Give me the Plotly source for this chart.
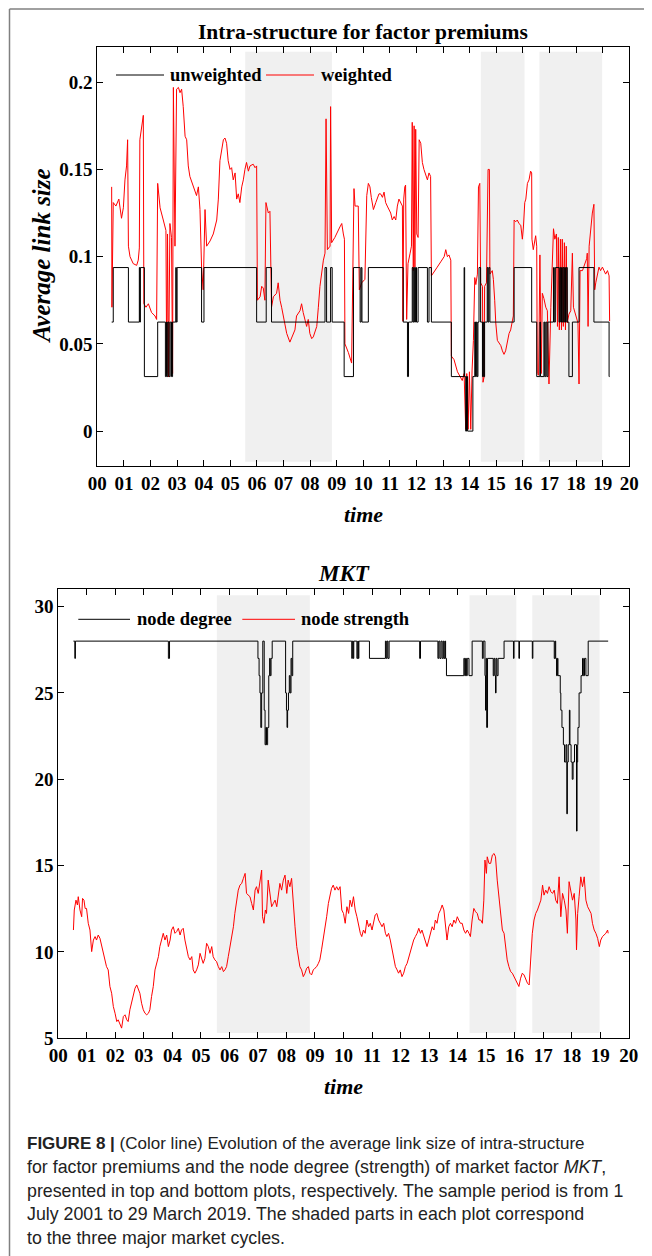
import plotly.graph_objects as go

# ---------------- data ----------------
year_ticks = list(range(0, 21))
year_labels = ["%02d" % y for y in year_ticks]

cycle_start = [5.56, 14.42, 16.62]
cycle_end = [8.82, 16.06, 18.98]

# top: weighted average link size (red)
w_time = [0.54, 0.55, 0.60, 0.70, 0.81, 0.91, 0.98, 1.04, 1.10, 1.14, 1.17, 1.23, 1.35, 1.48, 1.54, 1.58,
          1.60, 1.67, 1.73, 1.75, 1.83, 1.92, 2.04, 2.17, 2.23, 2.27, 2.36, 2.48, 2.58, 2.61, 2.64, 2.68,
          2.73, 2.79, 2.83, 2.86, 2.92, 2.98, 3.05, 3.11, 3.17, 3.23, 3.30, 3.36, 3.42, 3.48, 3.61, 3.67,
          3.73, 3.80, 3.86, 3.92, 3.98, 4.05, 4.11, 4.24, 4.36, 4.49, 4.55, 4.61, 4.67, 4.74, 4.80, 4.86,
          4.92, 4.99, 5.05, 5.11, 5.18, 5.24, 5.30, 5.36, 5.43, 5.49, 5.55, 5.61, 5.68, 5.74, 5.86, 5.93,
          5.99, 6.02, 6.12, 6.18, 6.24, 6.30, 6.34, 6.43, 6.49, 6.55, 6.62, 6.74, 6.80, 6.87, 6.93, 6.99,
          7.12, 7.24, 7.37, 7.43, 7.49, 7.62, 7.68, 7.74, 7.87, 7.93, 7.99, 8.06, 8.12, 8.25, 8.31, 8.37,
          8.50, 8.56, 8.60, 8.65, 8.75, 8.77, 8.81, 8.93, 9.12, 9.19, 9.25, 9.29, 9.31, 9.37, 9.44, 9.56,
          9.62, 9.65, 9.69, 9.81, 9.85, 9.94, 10.06, 10.13, 10.19, 10.25, 10.30, 10.38, 10.47, 10.53,
          10.59, 10.65, 10.72, 10.78, 10.84, 10.90, 10.97, 11.03, 11.09, 11.16, 11.22, 11.28, 11.34,
          11.41, 11.47, 11.49, 11.52, 11.56, 11.59, 11.63, 11.68, 11.76, 11.81, 11.84, 11.88, 11.91,
          11.94, 11.97, 12.01, 12.06, 12.10, 12.16, 12.22, 12.28, 12.35, 12.41, 12.47, 12.53, 12.56,
          12.66, 12.78, 12.91, 13.04, 13.10, 13.16, 13.22, 13.29, 13.31, 13.41, 13.54, 13.66, 13.72,
          13.79, 13.85, 13.89, 13.94, 13.99, 14.04, 14.09, 14.14, 14.19, 14.23, 14.29, 14.33, 14.38,
          14.41, 14.48, 14.50, 14.54, 14.56, 14.63, 14.69, 14.74, 14.76, 14.85, 14.89, 14.94, 14.98,
          15.04, 15.17, 15.23, 15.29, 15.35, 15.42, 15.48, 15.54, 15.60, 15.64, 15.67, 15.73, 15.79,
          15.85, 15.92, 15.98, 16.02, 16.07, 16.11, 16.17, 16.23, 16.29, 16.33, 16.34, 16.39, 16.44,
          16.48, 16.52, 16.54, 16.59, 16.64, 16.69, 16.73, 16.79, 16.86, 16.92, 16.98, 17.05, 17.15,
          17.20, 17.26, 17.30, 17.33, 17.37, 17.41, 17.45, 17.48, 17.52, 17.56, 17.60, 17.63, 17.67,
          17.73, 17.80, 17.86, 17.90, 17.98, 18.07, 18.11, 18.15, 18.24, 18.32, 18.40, 18.42, 18.45,
          18.49, 18.55, 18.61, 18.67, 18.70, 18.74, 18.80, 18.86, 18.92, 18.99, 19.05, 19.11, 19.18,
          19.24, 19.26]
w_value = [0.140, 0.071, 0.131, 0.129, 0.133, 0.122, 0.128, 0.144, 0.152, 0.167, 0.106, 0.100, 0.096, 0.095, 0.098, 0.105,
           0.167, 0.175, 0.181, 0.073, 0.071, 0.073, 0.068, 0.066, 0.064, 0.142, 0.128, 0.121, 0.115, 0.033, 0.113, 0.031,
           0.119, 0.111, 0.033, 0.197, 0.106, 0.196, 0.197, 0.194, 0.196, 0.186, 0.169, 0.167, 0.152, 0.146, 0.140, 0.137,
           0.135, 0.140, 0.127, 0.094, 0.081, 0.127, 0.106, 0.109, 0.113, 0.121, 0.133, 0.155, 0.161, 0.167, 0.168, 0.165,
           0.155, 0.150, 0.151, 0.144, 0.148, 0.133, 0.136, 0.131, 0.140, 0.144, 0.150, 0.154, 0.149, 0.152, 0.153, 0.151,
           0.152, 0.075, 0.077, 0.083, 0.082, 0.075, 0.131, 0.125, 0.126, 0.071, 0.077, 0.079, 0.085, 0.075, 0.071, 0.066,
           0.056, 0.051, 0.056, 0.058, 0.066, 0.069, 0.073, 0.068, 0.060, 0.064, 0.056, 0.053, 0.054, 0.060, 0.071, 0.083,
           0.098, 0.102, 0.179, 0.104, 0.106, 0.186, 0.108, 0.111, 0.117, 0.119, 0.113, 0.110, 0.050, 0.048, 0.045, 0.039,
           0.090, 0.139, 0.129, 0.129, 0.081, 0.085, 0.087, 0.135, 0.142, 0.140, 0.134, 0.127, 0.131, 0.134,
           0.136, 0.136, 0.134, 0.137, 0.131, 0.129, 0.127, 0.125, 0.121, 0.123, 0.121, 0.129, 0.133,
           0.131, 0.129, 0.063, 0.133, 0.140, 0.141, 0.064, 0.096, 0.102, 0.106, 0.177, 0.092, 0.175,
           0.094, 0.173, 0.113, 0.111, 0.167, 0.165, 0.154, 0.150, 0.146, 0.144, 0.148, 0.146, 0.089,
           0.091, 0.094, 0.097, 0.100, 0.104, 0.100, 0.101, 0.098, 0.043, 0.041, 0.034, 0.031, 0.029,
           0.033, 0.001, 0.033, 0.001, 0.034, 0.001, 0.035, 0.052, 0.088, 0.084, 0.090, 0.140, 0.142,
           0.085, 0.083, 0.028, 0.031, 0.083, 0.085, 0.150, 0.150, 0.090, 0.092, 0.087, 0.075, 0.062,
           0.052, 0.049, 0.046, 0.044, 0.046, 0.052, 0.056, 0.058, 0.062, 0.066, 0.121, 0.120, 0.121,
           0.119, 0.118, 0.110, 0.117, 0.131, 0.133, 0.142, 0.144, 0.149, 0.148, 0.110, 0.104, 0.110,
           0.112, 0.106, 0.033, 0.032, 0.101, 0.033, 0.079, 0.076, 0.071, 0.069, 0.027, 0.071, 0.116,
           0.110, 0.113, 0.060, 0.111, 0.058, 0.110, 0.058, 0.110, 0.060, 0.108, 0.058, 0.106, 0.062,
           0.067, 0.069, 0.102, 0.071, 0.067, 0.062, 0.027, 0.092, 0.092, 0.096, 0.099, 0.102, 0.060,
           0.106, 0.117, 0.125, 0.130, 0.081, 0.085, 0.090, 0.094, 0.092, 0.094, 0.092, 0.090, 0.092,
           0.089, 0.063]

# top: unweighted average link size (black, step)
u_time = [0.54, 0.60, 1.17, 1.58, 1.60, 1.62, 1.77, 2.27, 2.56, 2.60, 2.63, 2.66, 2.70, 2.74, 2.79, 2.83,
          2.95, 2.97, 3.00, 3.92, 4.01, 5.99, 6.35, 6.55, 8.56, 8.62, 8.77, 8.83, 9.28, 9.63, 9.88, 9.92,
          9.95, 10.19, 11.50, 11.66, 11.70, 11.84, 11.87, 11.90, 11.93, 11.96, 12.00, 12.06, 12.41, 12.47,
          12.56, 13.31, 13.79, 13.81, 13.85, 13.88, 13.92, 14.12, 14.19, 14.22, 14.25, 14.28, 14.31, 14.35,
          14.41, 14.48, 14.51, 14.53, 14.56, 14.66, 14.69, 14.72, 14.76, 15.67, 16.33, 16.52, 16.64, 16.66,
          16.79, 16.82, 16.86, 16.90, 16.94, 17.15, 17.18, 17.22, 17.36, 17.39, 17.42, 17.45, 17.48, 17.51,
          17.54, 17.57, 17.60, 17.63, 17.67, 17.73, 17.86, 18.11, 18.67, 19.24, 19.26]
u_value = [0.0625, 0.09375, 0.0625, 0.09375, 0.0625, 0.09375, 0.03125, 0.0625, 0.03125, 0.0625, 0.03125, 0.0625,
           0.03125, 0.0625, 0.03125, 0.0625, 0.09375, 0.0625, 0.09375, 0.0625, 0.09375, 0.0625, 0.09375, 0.0625,
           0.09375, 0.0625, 0.09375, 0.0625, 0.03125, 0.09375, 0.0625, 0.09375, 0.0625, 0.09375, 0.0625, 0.03125,
           0.0625, 0.09375, 0.0625, 0.09375, 0.0625, 0.09375, 0.0625, 0.09375, 0.0625, 0.09375, 0.0625, 0.03125,
           0.09375, 0.03125, 0.0, 0.03125, 0.0, 0.03125, 0.0625, 0.03125, 0.0625, 0.03125, 0.0625, 0.09375,
           0.0625, 0.03125, 0.0625, 0.03125, 0.0625, 0.09375, 0.0625, 0.09375, 0.0625, 0.09375, 0.0625, 0.03125,
           0.0625, 0.03125, 0.0625, 0.03125, 0.0625, 0.03125, 0.0625, 0.09375, 0.0625, 0.09375, 0.0625, 0.09375,
           0.0625, 0.09375, 0.0625, 0.09375, 0.0625, 0.09375, 0.0625, 0.09375, 0.0625, 0.03125, 0.0625, 0.09375,
           0.0625, 0.03125, 0.03125]

# bottom: node strength of MKT (red)
s_time = [0.53, 0.56, 0.62, 0.67, 0.70, 0.76, 0.82, 0.85, 0.90, 0.94, 0.99, 1.05, 1.11, 1.17, 1.23, 1.29,
          1.34, 1.40, 1.46, 1.52, 1.58, 1.64, 1.69, 1.75, 1.81, 1.87, 1.93, 1.99, 2.05, 2.10, 2.16, 2.22,
          2.28, 2.34, 2.40, 2.45, 2.51, 2.57, 2.63, 2.69, 2.75, 2.81, 2.86, 2.92, 2.98, 3.04, 3.10, 3.16,
          3.21, 3.27, 3.33, 3.39, 3.45, 3.51, 3.56, 3.62, 3.68, 3.74, 3.80, 3.86, 3.92, 3.97, 4.03, 4.09,
          4.15, 4.21, 4.27, 4.32, 4.38, 4.44, 4.50, 4.56, 4.62, 4.68, 4.73, 4.79, 4.85, 4.91, 4.97, 5.03,
          5.08, 5.14, 5.20, 5.26, 5.32, 5.38, 5.43, 5.49, 5.55, 5.61, 5.67, 5.73, 5.79, 5.84, 5.90, 5.96,
          6.02, 6.08, 6.14, 6.19, 6.25, 6.31, 6.37, 6.43, 6.49, 6.55, 6.60, 6.66, 6.72, 6.78, 6.84, 6.90,
          6.95, 7.01, 7.07, 7.13, 7.16, 7.21, 7.26, 7.30, 7.36, 7.42, 7.48, 7.54, 7.60, 7.66, 7.71, 7.77,
          7.83, 7.89, 7.95, 8.01, 8.06, 8.12, 8.18, 8.24, 8.30, 8.36, 8.42, 8.47, 8.53, 8.59, 8.65, 8.71,
          8.77, 8.82, 8.88, 8.94, 9.00, 9.06, 9.12, 9.17, 9.23, 9.29, 9.35, 9.41, 9.47, 9.53, 9.58, 9.64,
          9.70, 9.76, 9.82, 9.88, 9.94, 10.00, 10.06, 10.12, 10.18, 10.23, 10.29, 10.35, 10.41, 10.47,
          10.53, 10.59, 10.64, 10.70, 10.76, 10.82, 10.88, 10.94, 11.00, 11.06, 11.11, 11.17, 11.23,
          11.29, 11.35, 11.41, 11.47, 11.52, 11.58, 11.64, 11.70, 11.76, 11.82, 11.88, 11.93, 11.99,
          12.05, 12.11, 12.17, 12.23, 12.29, 12.34, 12.40, 12.46, 12.52, 12.58, 12.64, 12.70, 12.75,
          12.81, 12.87, 12.93, 12.99, 13.05, 13.11, 13.17, 13.22, 13.28, 13.34, 13.40, 13.46, 13.52,
          13.58, 13.63, 13.69, 13.75, 13.81, 13.87, 13.93, 13.99, 14.04, 14.10, 14.16, 14.22, 14.28,
          14.34, 14.40, 14.45, 14.51, 14.57, 14.63, 14.69, 14.75, 14.81, 14.87, 14.92, 14.96, 15.01,
          15.04, 15.10, 15.16, 15.22, 15.28, 15.33, 15.39, 15.45, 15.51, 15.57, 15.63, 15.69, 15.74,
          15.80, 15.86, 15.92, 15.98, 16.04, 16.10, 16.15, 16.21, 16.27, 16.33, 16.39, 16.45, 16.51,
          16.57, 16.62, 16.68, 16.74, 16.80, 16.86, 16.92, 16.98, 17.03, 17.09, 17.15, 17.21, 17.27,
          17.33, 17.39, 17.44, 17.50, 17.56, 17.62, 17.68, 17.74, 17.80, 17.85, 17.91, 17.97, 18.03,
          18.09, 18.15, 18.17, 18.21, 18.26, 18.32, 18.38, 18.44, 18.50, 18.56, 18.62, 18.68, 18.73,
          18.79, 18.85, 18.91, 18.97, 19.02, 19.08, 19.14, 19.20, 19.26, 19.28]
s_value = [11.27, 12.43, 13.00, 12.72, 13.20, 12.43, 12.04, 13.10, 13.00, 12.52, 12.52, 11.66, 11.27, 10.02, 10.69, 10.89,
           10.69, 10.98, 10.79, 10.31, 9.92, 9.54, 9.15, 8.96, 8.00, 7.61, 6.84, 6.45, 5.97, 6.07, 5.78, 5.59,
           6.26, 6.36, 6.07, 5.97, 6.65, 7.03, 7.42, 7.90, 8.09, 7.80, 7.61, 7.03, 6.65, 6.45, 6.36, 6.45,
           6.65, 7.42, 8.00, 8.96, 9.34, 9.73, 10.31, 10.79, 11.08, 10.69, 10.98, 10.31, 10.69, 11.27, 11.46, 11.08,
           11.18, 11.37, 10.98, 11.27, 11.37, 10.69, 10.12, 9.73, 9.54, 9.73, 8.96, 8.77, 8.96, 9.25, 9.92, 9.54,
           9.34, 9.63, 10.50, 10.31, 9.92, 10.31, 9.73, 9.54, 9.44, 9.15, 8.96, 9.15, 8.86, 8.96, 9.15, 9.73,
           10.31, 10.89, 11.46, 12.23, 13.00, 13.58, 13.87, 13.97, 14.26, 14.55, 13.39, 13.29, 13.20, 12.81, 12.43, 13.58,
           13.78, 13.39, 14.16, 14.74, 12.04, 11.66, 12.43, 12.23, 14.16, 13.39, 12.62, 12.81, 13.00, 12.62, 13.39, 13.97,
           13.58, 14.16, 14.45, 13.39, 14.16, 13.78, 14.26, 12.62, 11.46, 10.31, 9.73, 9.15, 8.96, 8.57, 8.77, 9.06,
           9.15, 8.77, 8.67, 8.96, 9.06, 9.15, 9.34, 9.54, 10.12, 10.69, 11.27, 12.04, 12.81, 13.39, 13.68, 13.87,
           13.58, 13.78, 13.58, 13.78, 12.43, 12.23, 11.66, 12.62, 12.23, 13.00, 12.62, 13.20, 12.43, 12.04,
           11.46, 11.08, 10.89, 11.27, 11.08, 11.85, 11.46, 11.66, 11.27, 11.85, 12.14, 12.23, 11.85,
           11.66, 11.46, 11.66, 11.08, 10.89, 11.08, 10.69, 10.12, 9.73, 9.15, 8.96, 8.77, 8.96,
           8.57, 8.77, 9.15, 9.34, 9.73, 9.92, 10.31, 10.69, 10.89, 11.08, 11.37, 11.08, 11.27,
           10.98, 10.69, 10.31, 10.69, 11.08, 11.46, 11.27, 11.85, 11.66, 12.23, 12.43, 12.72, 12.43,
           11.66, 10.69, 11.46, 11.66, 11.46, 11.85, 11.66, 12.04, 11.85, 11.66, 11.66, 11.27, 11.08,
           11.27, 11.08, 10.89, 11.85, 12.52, 12.33, 12.23, 11.85, 11.85, 11.66, 13.00, 15.32, 14.55,
           15.51, 15.13, 15.13, 15.61, 15.70, 15.51, 14.16, 13.20, 11.85, 11.27, 11.08, 10.31, 9.54,
           9.15, 8.86, 8.77, 8.57, 8.38, 8.19, 8.00, 8.48, 8.77, 8.67, 8.38, 8.19, 8.09,
           9.92, 11.08, 11.85, 12.23, 12.43, 12.72, 13.00, 13.87, 13.29, 13.58, 13.39, 13.78, 13.49,
           13.39, 13.58, 13.00, 12.81, 14.35, 12.04, 13.39, 13.00, 12.43, 11.08, 14.07, 13.39, 13.00,
           13.39, 11.85, 10.12, 12.23, 13.20, 14.35, 13.78, 14.35, 13.00, 12.62, 12.43, 12.23, 11.66,
           11.27, 11.08, 10.79, 10.31, 10.69, 10.89, 10.98, 11.08, 11.27, 11.08]

# bottom: node degree of MKT (black, step)
d_time = [0.53, 0.58, 0.60, 3.86, 3.90, 7.00, 7.04, 7.07, 7.10, 7.13, 7.17, 7.22, 7.25, 7.28, 7.30, 7.34,
          7.38, 7.41, 7.43, 7.46, 7.50, 7.97, 8.00, 8.02, 8.04, 8.07, 8.10, 8.13, 8.16, 8.19, 8.22, 10.29,
          10.31, 10.34, 10.36, 10.47, 10.50, 10.52, 10.54, 10.91, 11.47, 11.50, 11.53, 11.56, 11.60, 12.67,
          12.70, 13.31, 13.34, 13.38, 13.42, 13.46, 13.50, 13.53, 13.56, 13.58, 13.61, 14.22, 14.25, 14.28,
          14.31, 14.34, 14.40, 14.51, 14.87, 14.90, 14.96, 14.98, 15.00, 15.02, 15.05, 15.25, 15.28, 15.31,
          15.33, 15.35, 15.38, 15.42, 15.63, 15.96, 15.98, 16.15, 16.17, 16.62, 16.64, 17.39, 17.42, 17.44,
          17.47, 17.50, 17.52, 17.60, 17.62, 17.66, 17.71, 17.75, 17.80, 17.83, 17.85, 17.88, 17.92, 17.94,
          17.98, 18.02, 18.05, 18.10, 18.17, 18.19, 18.21, 18.22, 18.26, 18.33, 18.38, 18.41, 18.45, 18.50,
          18.58, 19.28]
d_value = [28, 27, 28, 27, 28, 27, 26, 25, 23, 25, 28, 24, 22, 23, 22, 23,
           26, 27, 26, 27, 28, 25, 24, 23, 24, 25, 26, 25, 27, 26, 28, 27,
           28, 27, 28, 27, 28, 27, 28, 27, 28, 27, 28, 27, 28, 27,
           28, 27, 28, 27, 28, 27, 28, 27, 28, 27, 26, 27, 26, 27,
           26, 27, 26, 28, 27, 28, 26, 24, 27, 23, 27, 26, 27, 26,
           25, 27, 26, 27, 28, 27, 28, 27, 28, 27, 28, 27, 28, 27,
           26, 27, 26, 25, 24, 23, 22, 21, 22, 18, 21, 22, 24, 22,
           21, 20, 21, 22, 17, 21, 22, 23, 25, 26, 27, 26, 27, 26,
           28, 28]

top_yticks = [0, 0.05, 0.1, 0.15, 0.2]
top_ylabels = ["0", "0.05", "0.1", "0.15", "0.2"]
bot_yticks = [5, 10, 15, 20, 25, 30]

caption_lines = [
    "<b>FIGURE 8 |</b> (Color line) Evolution of the average link size of intra-structure",
    "for factor premiums and the node degree (strength) of market factor <i>MKT</i>,",
    "presented in top and bottom plots, respectively. The sample period is from 1",
    "July 2001 to 29 March 2019. The shaded parts in each plot correspond",
    "to the three major market cycles.",
]

# ---------------- figure ----------------
# the page body adds an 8 px margin, so the figure is 8 px smaller on each axis
OFF = 8
W, H = 652 - OFF, 1256 - OFF
def px(x):
    return (x - OFF) / W
def py(y):
    return 1 - (y - OFF) / H

SERIF = "Liberation Serif"
RED = "#ff0000"
SHADE = "#f0f0f0"

fig = go.Figure()
fig.add_trace(go.Scatter(x=w_time, y=w_value, mode="lines", line=dict(color=RED, width=1),
                         name="weighted", xaxis="x", yaxis="y"))
fig.add_trace(go.Scatter(x=u_time, y=u_value, mode="lines", line=dict(color="black", width=1, shape="hv"),
                         name="unweighted", xaxis="x", yaxis="y"))
fig.add_trace(go.Scatter(x=s_time, y=s_value, mode="lines", line=dict(color=RED, width=1),
                         name="node strength", xaxis="x2", yaxis="y2"))
fig.add_trace(go.Scatter(x=d_time, y=d_value, mode="lines", line=dict(color="black", width=1, shape="hv"),
                         name="node degree", xaxis="x2", yaxis="y2"))

tickfont = dict(family=SERIF, size=19, color="black", weight="bold")
axis_common = dict(showline=True, linecolor="black", linewidth=1.2, mirror="ticks", ticks="inside",
                   ticklen=6, tickwidth=1, tickcolor="black", showgrid=False, zeroline=False,
                   tickfont=tickfont, fixedrange=True, automargin=False)

fig.update_layout(
    template="none",
    width=W, height=H, margin=dict(l=0, r=0, t=0, b=0, pad=0, autoexpand=False),
    paper_bgcolor="white", plot_bgcolor="white", showlegend=False,
    xaxis=dict(domain=[px(97.3), px(629.3)], range=[0, 20], anchor="y",
               tickvals=year_ticks, ticktext=year_labels, **axis_common),
    yaxis=dict(domain=[py(466), py(47.3)], range=[-0.02, 0.22], anchor="x",
               tickvals=top_yticks, ticktext=top_ylabels, **axis_common),
    xaxis2=dict(domain=[px(58.3), px(628.7)], range=[0, 20], anchor="y2",
                tickvals=year_ticks, ticktext=year_labels, **axis_common),
    yaxis2=dict(domain=[py(1038.3), py(589.3)], range=[5, 31], anchor="x2",
                tickvals=bot_yticks, **axis_common),
)

shapes = []
for a, b in zip(cycle_start, cycle_end):
    shapes.append(dict(type="rect", xref="x", yref="y", x0=a, x1=b, y0=-0.0175, y1=0.2175,
                       fillcolor=SHADE, line=dict(width=0), layer="below"))
    shapes.append(dict(type="rect", xref="x2", yref="y2", x0=a, x1=b, y0=5.3, y1=30.65,
                       fillcolor=SHADE, line=dict(width=0), layer="below"))
# page frame
shapes.append(dict(type="line", xref="paper", yref="paper", x0=px(9.5), x1=px(9.5), y0=py(9), y1=0,
                   line=dict(color="#808080", width=1.5)))
shapes.append(dict(type="line", xref="paper", yref="paper", x0=px(9.5), x1=1, y0=py(9), y1=py(9),
                   line=dict(color="#808080", width=1.5)))
# legend samples
for x0, x1, y, c in [(116, 164, 75, "black"), (266, 314, 75, RED),
                     (78.3, 130, 619.3, "black"), (242.3, 295, 619.3, RED)]:
    shapes.append(dict(type="line", xref="paper", yref="paper", x0=px(x0), x1=px(x1), y0=py(y), y1=py(y),
                       line=dict(color=c, width=1)))
fig.update_layout(shapes=shapes)

ann = []
def add_text(text, x, y, size, xanchor="center", weight="bold", style="normal", angle=0, family=SERIF,
             color="black"):
    ann.append(dict(text=text, xref="paper", yref="paper", x=px(x), y=py(y), xanchor=xanchor,
                    yanchor="middle", showarrow=False, textangle=angle,
                    font=dict(family=family, size=size, color=color, weight=weight, style=style)))

add_text("Intra-structure for factor premiums", 363, 31.7, 21.5)
add_text("MKT", 343.5, 573.5, 23, style="italic")
add_text("time", 363, 514, 22, style="italic")
add_text("time", 343.5, 1086.7, 22, style="italic")
add_text("Average link size", 41, 256.5, 25, style="italic", angle=-90)
add_text("unweighted", 168, 75, 18.5, xanchor="left")
add_text("weighted", 319, 75, 18.5, xanchor="left")
add_text("node degree", 135, 619.3, 18.5, xanchor="left")
add_text("node strength", 299, 619.3, 18.5, xanchor="left")

cap_y = [1143, 1167, 1190.5, 1214, 1238]
cap_size = [17, 17.8, 17.8, 17.8, 17.8]
for t, y, s in zip(caption_lines, cap_y, cap_size):
    add_text(t, 25, y, s, xanchor="left", weight="normal", family="Liberation Sans", color="#222222")
fig.update_layout(annotations=ann)

fig.write_html("out.html")
